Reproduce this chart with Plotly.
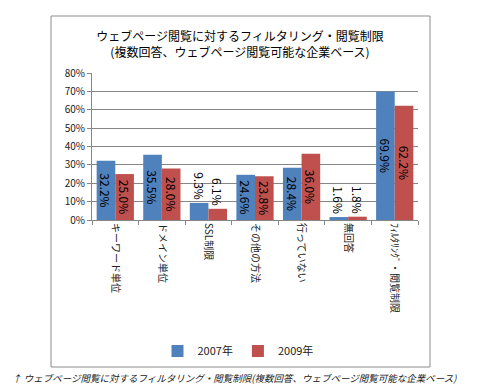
import plotly.graph_objects as go

categories = ["キーワード単位", "ドメイン単位", "SSL制限", "その他の方法", "行っていない", "無回答", "ﾌｨﾙﾀﾘﾝｸﾞ・閲覧制限"]
series_names = ["2007年", "2009年"]
values_2007 = [32.2, 35.5, 9.3, 24.6, 28.4, 1.6, 69.9]
values_2009 = [25.0, 28.0, 6.1, 23.8, 36.0, 1.8, 62.2]
y_ticks = [0, 10, 20, 30, 40, 50, 60, 70, 80]
y_tick_labels = [f"{v}%" for v in y_ticks]
colors = ["#4F81BD", "#C0504D"]

FONT = "Noto Sans CJK JP"

def positions(vals):
    return ["outside" if v < 12 else "inside" for v in vals]

fig = go.Figure()
for name, vals, col in zip(series_names, [values_2007, values_2009], colors):
    fig.add_trace(go.Bar(
        x=categories, y=vals, name=name,
        marker=dict(color=col, line=dict(width=0)),
        text=[f"{v:.1f}%" for v in vals],
        textposition=positions(vals),
        textangle=90,
        insidetextanchor="middle",
        constraintext="none",
        cliponaxis=False,
        textfont=dict(family=FONT, size=12, color="#000000"),
        outsidetextfont=dict(family=FONT, size=12, color="#000000"),
        insidetextfont=dict(family=FONT, size=12, color="#000000"),
    ))

L, R, T, B = 92, 62, 73, 172
W, H = 480, 392
pw = W - L - R
ph = H - T - B

def px2x(px):
    return (px - L) / pw

def py2y(py):
    return (H - B - py) / ph

fig.update_layout(
    width=W, height=H,
    margin=dict(l=L, r=R, t=T, b=B, pad=0),
    paper_bgcolor="white", plot_bgcolor="white",
    barmode="group", bargap=0.2, bargroupgap=0,
    font=dict(family=FONT, size=11, color="#222222"),
    title=dict(
        text="ウェブページ閲覧に対するフィルタリング・閲覧制限<br>(複数回答、ウェブページ閲覧可能な企業ベース)",
        x=0.5, xanchor="center", xref="container",
        y=1 - 41 / H, yanchor="middle", yref="container",
        font=dict(family=FONT, size=12, color="#000000"),
    ),
    showlegend=True,
    legend=dict(
        orientation="h", x=px2x(238), xanchor="center",
        y=py2y(351), yanchor="middle",
        font=dict(family=FONT, size=11, color="#222222"),
        itemwidth=30, traceorder="normal",
    ),
    xaxis=dict(
        showgrid=False, showline=True, linecolor="#868686", linewidth=1,
        ticks="outside", tickson="boundaries", ticklen=4, tickcolor="#868686",
        tickangle=90, tickfont=dict(family=FONT, size=10, color="#222222"),
        fixedrange=True,
    ),
    yaxis=dict(
        range=[0, 80], tickvals=y_ticks, ticktext=y_tick_labels,
        showgrid=True, gridcolor="#868686", gridwidth=1,
        showline=True, linecolor="#868686", linewidth=1,
        ticks="outside", ticklen=4, tickcolor="#868686",
        tickfont=dict(family=FONT, size=10, color="#222222"),
        zeroline=False, fixedrange=True,
    ),
    shapes=[dict(
        type="rect", xref="paper", yref="paper",
        x0=px2x(51), x1=px2x(430), y0=py2y(367), y1=py2y(16),
        line=dict(color="#8c8c8c", width=1), fillcolor="rgba(0,0,0,0)", layer="below",
    )],
    annotations=[dict(
        text="<i>↑ ウェブページ閲覧に対するフィルタリング・閲覧制限(複数回答、ウェブページ閲覧可能な企業ベース)</i>",
        xref="paper", yref="paper", x=px2x(234), y=py2y(378),
        xanchor="center", yanchor="middle", showarrow=False,
        font=dict(family=FONT, size=9.5, color="#222222"),
    )],
)

fig.write_html(
    "out.html",
    config={"displayModeBar": False},
    post_script="document.body.style.margin='0';document.body.style.overflow='hidden';",
)
